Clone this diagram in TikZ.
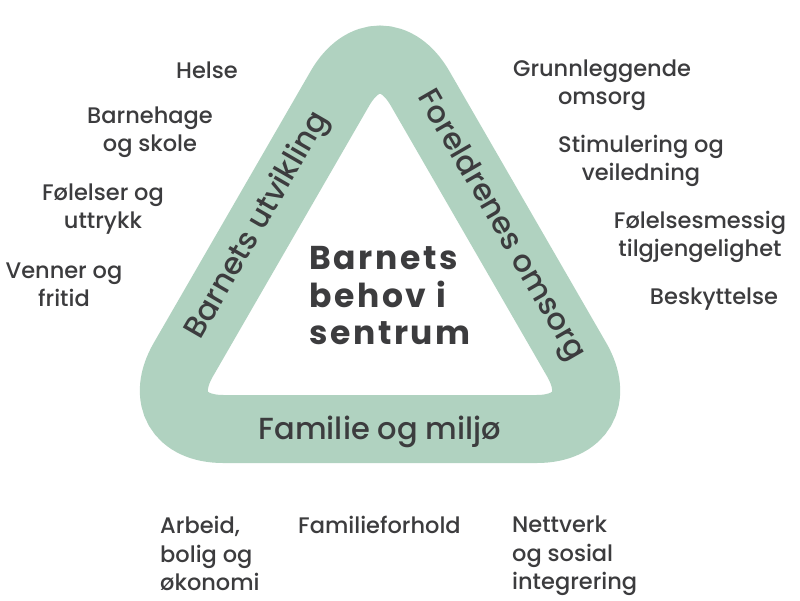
\documentclass[tikz,border=0pt]{standalone}
\usepackage{fontspec}
\setmainfont{Poppins}[UprightFont={* Medium},BoldFont={* Bold}]
\newfontfamily\corefont{Poppins}[UprightFont={* Bold},LetterSpace=8]
\definecolor{band}{HTML}{B0D2C0}
\definecolor{ink}{HTML}{3C3C3E}
\begin{document}
\begin{tikzpicture}[x=1pt,y=-1pt,
  item/.style={text=ink,font=\fontsize{22.5}{28.5}\selectfont,align=center,inner sep=0pt},
  itemL/.style={item,align=left,anchor=north west},
  side/.style={text=ink,font=\fontsize{30.5}{34}\selectfont,inner sep=0pt},
  core/.style={text=ink,font=\fontsize{33}{37.5}\corefont,align=left,inner sep=0pt},
  bandline/.style={draw=band,line width=68pt,rounded corners=80pt}]
\useasboundingbox (0,0) rectangle (800,600);
\fill[white] (0,0) rectangle (800,600);
\coordinate (A) at (380,19);
\coordinate (BL) at (143.3,429);
\coordinate (BR) at (616.7,429);
\coordinate (M) at (380,429);
\draw[bandline] (M) -- (BR) -- (A) -- (BL) -- cycle;
% side labels
\node[side,rotate=60] (su) at (258,226) {Barnets utvikling};
\node[side,rotate=-60] (so) at (500,226) {Foreldrenes omsorg};
\node[side] (sf) at (380,432) {Familie og miljø};
% centre
\node[core] (c) at (390,296) {Barnets\\behov i\\sentrum};
% left items
\node[item] (l1) at (207,70) {Helse};
\node[item] (l2) at (150,132) {Barnehage\\og skole};
\node[item] (l3) at (103,209) {Følelser og\\uttrykk};
\node[item] (l4) at (64,285) {Venner og\\fritid};
% right items
\node[item] (r1) at (602,85) {Grunnleggende\\omsorg};
\node[item] (r2) at (641,161) {Stimulering og\\veiledning};
\node[item] (r3) at (700,237) {Følelsesmessig\\tilgjengelighet};
\node[item] (r4) at (714,299) {Beskyttelse};
% bottom items
\node[itemL] (b1) at (160,516) {Arbeid,\\bolig og\\økonomi};
\node[itemL] (b2) at (298,516) {Familieforhold};
\node[itemL] (b3) at (512,516) {Nettverk\\og sosial\\integrering};
\end{tikzpicture}
\end{document}
